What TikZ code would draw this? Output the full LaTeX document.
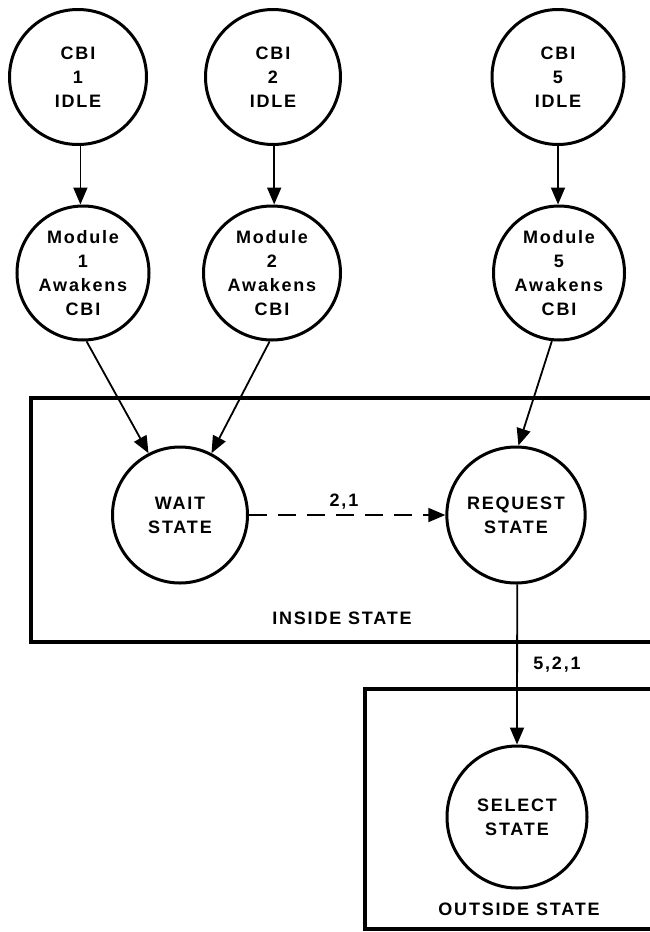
\documentclass[tikz,border=0pt]{standalone}
\usepackage{fontspec}
\setmainfont{Liberation Sans}[LetterSpace=10]
\usetikzlibrary{shapes.geometric,arrows.meta}
\begin{document}
\begin{tikzpicture}[x=1pt,y=-1pt,
  st/.style={draw,ellipse,line width=3pt,inner sep=0pt,align=center,
    font=\bfseries\fontsize{18}{24}\selectfont},
  lbl/.style={font=\bfseries\fontsize{18}{20}\selectfont,inner sep=0pt},
  arr/.style={line width=1.8pt,-{Triangle[length=17pt,width=14pt]}},
  frame/.style={line width=4pt}]
\useasboundingbox (0,0) rectangle (650,932);
% frames
\draw[frame] (655,398) -- (31,398) -- (31,642) -- (655,642);
\draw[frame] (655,689) -- (365,689) -- (365,929) -- (655,929);
% states
\node[st,minimum width=137,minimum height=135] (c1) at (78,77) {CBI\\1\\IDLE};
\node[st,minimum width=135,minimum height=135] (c2) at (273,77) {CBI\\2\\IDLE};
\node[st,minimum width=132,minimum height=135] (c5) at (558,77) {CBI\\5\\IDLE};
\node[st,minimum width=132,minimum height=134] (m1) at (83,273) {Module\\1\\Awakens\\CBI};
\node[st,minimum width=137,minimum height=134] (m2) at (272,273) {Module\\2\\Awakens\\CBI};
\node[st,minimum width=131,minimum height=134] (m5) at (559,273) {Module\\5\\Awakens\\CBI};
\node[st,minimum width=135,minimum height=136] (w) at (180,515) {WAIT\\STATE};
\node[st,minimum width=135,minimum height=136] (r) at (516,515) {REQUEST\\STATE};
\node[st,minimum width=140,minimum height=142] (s) at (517,817) {SELECT\\STATE};
% labels
\node[lbl] (l21) at (344,502) {2,1};
\node[lbl] (lin) at (342,618) {INSIDE STATE};
\node[lbl] (l521) at (557,665) {5,2,1};
\node[lbl] (lout) at (519,909) {OUTSIDE STATE};
% connectors
\draw[arr] (c1.-88) -- (c1.-88 |- m1.north);
\draw[arr] (c2.-89) -- (c2.-89 |- m2.north);
\draw[arr] (c5.south) -- (c5.south |- m5.north);
\draw[arr] (m1.-87) -- (w.117);
\draw[arr] (m2.-92) -- (w.63);
\draw[arr] (m5.-96) -- (r.88);
\draw[arr,dash pattern=on 18pt off 11pt] (w.east) -- (r.west);
\draw[arr] (r.-89) -- (s.north);
\end{tikzpicture}
\end{document}
